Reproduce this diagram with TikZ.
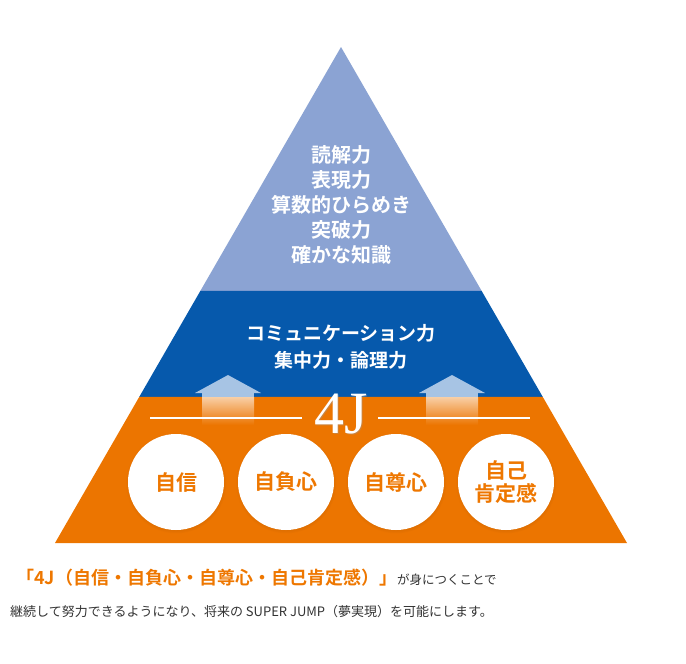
\documentclass[tikz,border=0pt]{standalone}
\usepackage{fontspec}
\setmainfont{Liberation Serif}
\newfontfamily\jp{Noto Sans CJK JP}
\newfontfamily\jpb{Noto Sans CJK JP Bold}
\usepackage{tikz}
\usetikzlibrary{calc,shadows}

\definecolor{azulclaro}{RGB}{139,163,211}
\definecolor{azulosc}{RGB}{6,89,172}
\definecolor{naranja}{RGB}{236,117,0}
\definecolor{textonaranja}{RGB}{238,119,0}
\definecolor{flecha}{RGB}{167,196,228}
\definecolor{gris}{RGB}{51,51,51}

\tikzset{
  texto/.style={text=white, align=center, inner sep=0pt},
  circulo/.style={circle, fill=white, minimum size=96pt, inner sep=0pt, align=center,
    text=textonaranja, font=\jpb\fontsize{21}{23}\selectfont,
    circular drop shadow={shadow xshift=0pt, shadow yshift=-1pt, shadow scale=1.05,
      opacity=0.35, fill=naranja!70!black}},
  linea/.style={draw=white, line width=1.5pt}
}

\begin{document}
\begin{tikzpicture}[x=1pt,y=-1pt]
  \useasboundingbox (0,0) rectangle (686,664);
  \coordinate (A) at (341,47);
  \coordinate (BL) at (55,543);
  \coordinate (BR) at (627,543);

  % Niveles de la piramide
  \fill[azulclaro] (A) -- ($(A)!0.4919!(BL)$) -- ($(A)!0.4919!(BR)$) -- cycle;
  \fill[azulosc] ($(A)!0.4919!(BL)$) -- ($(A)!0.7056!(BL)$) -- ($(A)!0.7056!(BR)$) -- ($(A)!0.4919!(BR)$) -- cycle;
  \fill[naranja] ($(A)!0.7056!(BL)$) -- (BL) -- (BR) -- ($(A)!0.7056!(BR)$) -- cycle;

  % Flechas hacia arriba
  \foreach \x in {228,452}{
    \fill[flecha] (\x-33,393) -- (\x,375) -- (\x+33,393) -- cycle;
    \fill[flecha] (\x-26,393) rectangle (\x+26,397);
    \shade[top color=naranja!35!white, middle color=naranja!45!white, bottom color=naranja]
      (\x-26,397) rectangle (\x+26,425);
  }

  % Lineas y 4J
  \draw[linea] (150,418) -- (302,418);
  \draw[linea] (378,418) -- (530,418);
  \node[text=black!40, opacity=0.4, anchor=base, font=\fontsize{60}{60}\selectfont] at (342.5,434.5) {4J};
  \node[text=white, anchor=base, font=\fontsize{60}{60}\selectfont] (cuatroj) at (341,433) {4J};

  % Circulos
  \foreach \i/\x/\t in {1/176/自信, 2/286/自負心, 3/396/自尊心, 4/506/{自己\\肯定感}}{
    \node[circulo] (c\i) at (\x,482) {\t};
  }

  % Textos de los niveles
  \node[texto, font=\jpb\fontsize{20}{25}\selectfont] (cima) at (341,205)
    {読解力\\表現力\\算数的ひらめき\\突破力\\確かな知識};
  \node[texto, font=\jpb\fontsize{19}{27}\selectfont] (medio) at (341,346.5)
    {コミュニケーション力\\集中力・論理力};

  % Leyenda
  \node[anchor=base west, inner sep=0pt] (lema) at (16,584)
    {\jpb\textcolor{textonaranja}{\fontsize{18}{18}\selectfont 「4J（自信・自負心・自尊心・自己肯定感）」}%
     \jp\textcolor{gris}{\fontsize{12.5}{13}\selectfont が身につくことで}};
  \node[anchor=base west, inner sep=0pt, text=gris, font=\jp\fontsize{13}{13}\selectfont] (frase) at (10,616)
    {継続して努力できるようになり、将来の SUPER JUMP（夢実現）を可能にします。};
\end{tikzpicture}
\end{document}
